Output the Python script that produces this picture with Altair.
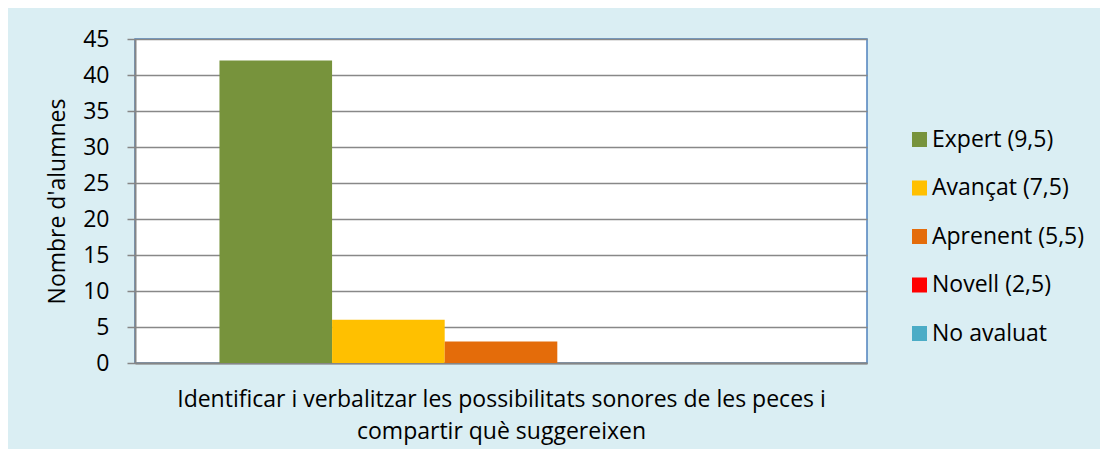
import altair as alt
import pandas as pd

series = ["Expert (9,5)", "Avançat (7,5)", "Aprenent (5,5)", "Novell (2,5)", "No avaluat"]
values = [42, 6, 3, 0, 0]
colors = ["#77933C", "#FFC000", "#E46C0A", "#FF0000", "#4BACC6"]
category_lines = [
    "Identificar i verbalitzar les possibilitats sonores de les peces i",
    "compartir què suggereixen",
]
y_ticks = [0, 5, 10, 15, 20, 25, 30, 35, 40, 45]

df = pd.DataFrame({"series": series, "value": values})

FONT = "Open Sans"

chart = (
    alt.Chart(df)
    .mark_bar()
    .encode(
        x=alt.X(
            "series:N",
            sort=series,
            scale=alt.Scale(paddingInner=0, paddingOuter=0.75),
            axis=alt.Axis(
                labels=False,
                ticks=False,
                grid=False,
                title=category_lines,
                titleFont=FONT,
                titleFontSize=23,
                titleFontWeight="normal",
                titleColor="#000000",
                titlePadding=25,
                titleLineHeight=32,
                domainColor="#868686",
                domainWidth=2,
            ),
        ),
        y=alt.Y(
            "value:Q",
            scale=alt.Scale(domain=[0, 45], nice=False),
            axis=alt.Axis(
                values=y_ticks,
                title="Nombre d'alumnes",
                titleFont=FONT,
                titleFontSize=23,
                titleFontWeight="normal",
                titleColor="#000000",
                titlePadding=13,
                labelFont=FONT,
                labelFontSize=23,
                labelColor="#000000",
                labelPadding=18,
                tickSize=8,
                tickColor="#868686",
                tickWidth=1.5,
                domainColor="#868686",
                domainWidth=2,
                gridColor="#888888",
                gridWidth=1.5,
            ),
        ),
        color=alt.Color(
            "series:N",
            sort=series,
            scale=alt.Scale(domain=series, range=colors),
            legend=alt.Legend(
                title=None,
                orient="none",
                legendX=773,
                legendY=89,
                symbolType="square",
                symbolSize=225,
                symbolStrokeWidth=0,
                labelFont=FONT,
                labelFontSize=23,
                labelColor="#000000",
                labelOffset=1,
                rowPadding=24.5,
                padding=0,
            ),
        ),
    )
    .properties(
        width=732,
        height=324,
        autosize=alt.AutoSizeParams(type="none"),
        padding={"left": 127, "top": 31, "right": 233, "bottom": 86},
        background="#DAEEF3",
    )
    .configure_view(fill="#FFFFFF", stroke="#4F81BD", strokeWidth=1.5)
)

chart.save("out.html", embed_options={"renderer": "svg", "actions": False})
